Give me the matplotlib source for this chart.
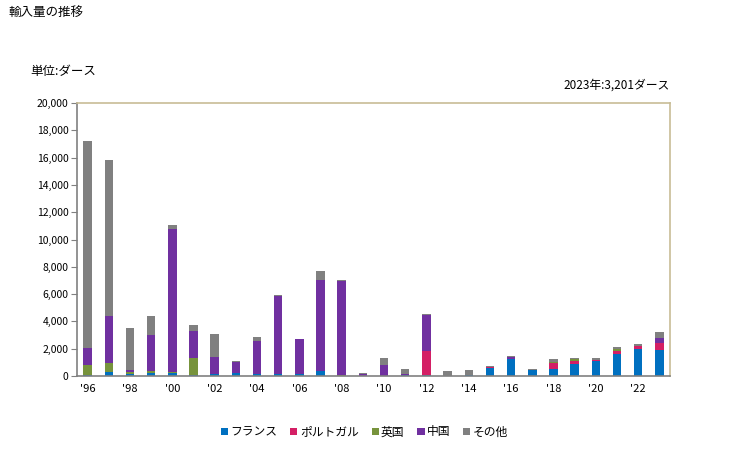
import numpy as np
import matplotlib.pyplot as plt
from matplotlib.ticker import FuncFormatter

plt.rcParams['font.family'] = ['Noto Sans CJK JP', 'DejaVu Sans']

years = list(range(1996, 2024))
france   = [70, 290, 150, 220, 220, 70, 170, 220, 170, 170, 170, 370, 0, 0, 0, 70, 70, 0, 70, 620, 1245, 465, 510, 900, 1100, 1640, 1980, 1940]
portugal = [0, 0, 0, 0, 0, 0, 0, 0, 0, 0, 0, 0, 0, 0, 0, 0, 1760, 0, 0, 60, 0, 0, 440, 195, 100, 195, 220, 490]
uk       = [740, 660, 150, 150, 100, 1270, 0, 0, 0, 0, 0, 0, 70, 0, 0, 0, 0, 0, 0, 0, 0, 0, 50, 120, 0, 120, 0, 0]
china    = [1270, 3450, 150, 2640, 10460, 1955, 1220, 810, 2400, 5700, 2540, 6675, 6895, 150, 800, 70, 2640, 0, 0, 0, 170, 0, 0, 0, 0, 50, 0, 360]
other    = [15160, 11440, 3080, 1390, 290, 440, 1690, 70, 290, 70, 0, 660, 70, 70, 510, 370, 70, 370, 370, 80, 75, 70, 250, 100, 120, 120, 145, 411]

names = ['フランス', 'ポルトガル', '英国', '中国', 'その他']
colors = ['#0070c0', '#d41f65', '#77933c', '#7030a0', '#808080']
series = [france, portugal, uk, china, other]

fig = plt.figure(figsize=(7.29, 4.5), dpi=100)
ax = fig.add_axes([0.1056, 0.1644, 0.8134, 0.6066])

x = np.arange(len(years))
bottom = np.zeros(len(years))
for vals, nm, c in zip(series, names, colors):
    ax.bar(x, vals, width=0.4, bottom=bottom, color=c, label=nm)
    bottom += np.array(vals)

ax.set_xlim(-0.5, len(years) - 0.5)
ax.set_ylim(0, 20000)
ax.set_yticks(np.arange(0, 20001, 2000))
ax.yaxis.set_major_formatter(FuncFormatter(lambda v, p: f'{int(v):,}'))
ax.set_xticks(x[::2])
ax.set_xticklabels([f"'{str(y)[2:]}" for y in years[::2]])
ax.tick_params(axis='x', length=0, labelsize=8, pad=6)
ax.tick_params(axis='y', length=4, labelsize=7.5, color='#808080', pad=2)

for s in ['left', 'bottom']:
    ax.spines[s].set_color('#808080')
    ax.spines[s].set_linewidth(1.2)
for s in ['top', 'right']:
    ax.spines[s].set_color('#c8bc96')
    ax.spines[s].set_linewidth(1.2)

fig.text(0.011, 0.972, '輸入量の推移', fontsize=9, va='center', ha='left')
fig.text(0.041, 0.84, '単位:ダース', fontsize=9, va='center', ha='left')
fig.text(0.919, 0.81, '2023年:3,201ダース', fontsize=8.5, va='center', ha='right')

fig.legend(loc='center', bbox_to_anchor=(0.5, 0.04), ncol=5, frameon=False,
           fontsize=8.5, handlelength=0.6, handleheight=0.6, handletextpad=0.2,
           columnspacing=1.1)

fig.savefig('out.png', dpi=100)
